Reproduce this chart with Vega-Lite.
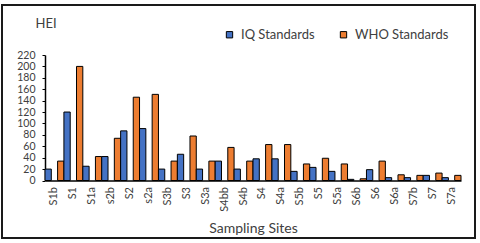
{
  "$schema": "https://vega.github.io/schema/vega-lite/v6.json",
  "autosize": "none",
  "width": 473,
  "height": 233,
  "padding": {"left": 2, "top": 5, "right": 5, "bottom": 5},
  "background": "white",
  "config": {
    "view": {"stroke": "#1a1a1a", "strokeWidth": 2},
    "font": "Lato",
    "axis": {"grid": false}
  },
  "data": {
    "values": [
      {"site": "S1b", "standard": "IQ Standards", "value": 20},
      {"site": "S1b", "standard": "WHO Standards", "value": 34},
      {"site": "S1", "standard": "IQ Standards", "value": 120},
      {"site": "S1", "standard": "WHO Standards", "value": 200},
      {"site": "S1a", "standard": "IQ Standards", "value": 25},
      {"site": "S1a", "standard": "WHO Standards", "value": 42},
      {"site": "s2b", "standard": "IQ Standards", "value": 42},
      {"site": "s2b", "standard": "WHO Standards", "value": 74},
      {"site": "S2", "standard": "IQ Standards", "value": 87},
      {"site": "S2", "standard": "WHO Standards", "value": 146},
      {"site": "s2a", "standard": "IQ Standards", "value": 91},
      {"site": "s2a", "standard": "WHO Standards", "value": 151},
      {"site": "S3b", "standard": "IQ Standards", "value": 20},
      {"site": "S3b", "standard": "WHO Standards", "value": 34},
      {"site": "S3", "standard": "IQ Standards", "value": 46},
      {"site": "S3", "standard": "WHO Standards", "value": 78},
      {"site": "S3a", "standard": "IQ Standards", "value": 20},
      {"site": "S3a", "standard": "WHO Standards", "value": 34},
      {"site": "S4bb", "standard": "IQ Standards", "value": 34},
      {"site": "S4bb", "standard": "WHO Standards", "value": 58},
      {"site": "S4b", "standard": "IQ Standards", "value": 20},
      {"site": "S4b", "standard": "WHO Standards", "value": 34},
      {"site": "S4", "standard": "IQ Standards", "value": 38},
      {"site": "S4", "standard": "WHO Standards", "value": 63},
      {"site": "S4a", "standard": "IQ Standards", "value": 38},
      {"site": "S4a", "standard": "WHO Standards", "value": 63},
      {"site": "S5b", "standard": "IQ Standards", "value": 16},
      {"site": "S5b", "standard": "WHO Standards", "value": 29},
      {"site": "S5", "standard": "IQ Standards", "value": 23},
      {"site": "S5", "standard": "WHO Standards", "value": 39},
      {"site": "S5a", "standard": "IQ Standards", "value": 16},
      {"site": "S5a", "standard": "WHO Standards", "value": 29},
      {"site": "S6b", "standard": "IQ Standards", "value": 2},
      {"site": "S6b", "standard": "WHO Standards", "value": 3},
      {"site": "S6", "standard": "IQ Standards", "value": 19},
      {"site": "S6", "standard": "WHO Standards", "value": 34},
      {"site": "S6a", "standard": "IQ Standards", "value": 5},
      {"site": "S6a", "standard": "WHO Standards", "value": 10},
      {"site": "S7b", "standard": "IQ Standards", "value": 5},
      {"site": "S7b", "standard": "WHO Standards", "value": 9},
      {"site": "S7", "standard": "IQ Standards", "value": 9},
      {"site": "S7", "standard": "WHO Standards", "value": 13},
      {"site": "S7a", "standard": "IQ Standards", "value": 5},
      {"site": "S7a", "standard": "WHO Standards", "value": 9}
    ]
  },
  "mark": {"type": "bar", "stroke": "black", "strokeWidth": 1},
  "encoding": {
    "x": {
      "field": "site",
      "type": "nominal",
      "sort": null,
      "scale": {"range": [43, 459], "paddingInner": 0, "paddingOuter": 0},
      "axis": {
        "orient": "bottom",
        "offset": -57.5,
        "title": "Sampling Sites",
        "titleFontSize": 14,
        "titleFontWeight": "normal",
        "titleColor": "#404040",
        "titleBaseline": "alphabetic",
        "titleY": 51.5,
        "labelAngle": -90,
        "labelFontSize": 11,
        "labelColor": "#404040",
        "labelPadding": 6,
        "ticks": false,
        "domainColor": "black",
        "domainWidth": 1.5
      }
    },
    "xOffset": {
      "field": "standard",
      "type": "nominal",
      "scale": {"domain": ["IQ Standards", "WHO Standards"], "paddingInner": 0.5, "paddingOuter": 0}
    },
    "y": {
      "field": "value",
      "type": "quantitative",
      "scale": {"domain": [0, 220], "range": [175.5, 50], "nice": false, "zero": true},
      "axis": {
        "orient": "left",
        "offset": -43,
        "values": [0, 20, 40, 60, 80, 100, 120, 140, 160, 180, 200, 220],
        "title": "HEI",
        "titleAngle": 0,
        "titleAlign": "left",
        "titleBaseline": "alphabetic",
        "titleX": -10,
        "titleY": 22,
        "titleFontSize": 13,
        "titleFontWeight": "normal",
        "titleColor": "#404040",
        "labelFontSize": 10.5,
        "labelColor": "#404040",
        "labelPadding": 7,
        "tickSize": 3,
        "tickColor": "black",
        "domainColor": "black",
        "domainWidth": 1.5
      }
    },
    "color": {
      "field": "standard",
      "type": "nominal",
      "scale": {"domain": ["IQ Standards", "WHO Standards"], "range": ["#4472C4", "#ED7D31"]},
      "legend": {
        "orient": "none",
        "legendX": 221,
        "legendY": 23,
        "direction": "horizontal",
        "title": null,
        "symbolType": "square",
        "symbolSize": 40,
        "symbolStrokeColor": "black",
        "symbolStrokeWidth": 1,
        "symbolOpacity": 1,
        "labelFontSize": 13,
        "labelColor": "#404040",
        "labelOffset": 5,
        "columnPadding": 22
      }
    }
  }
}
